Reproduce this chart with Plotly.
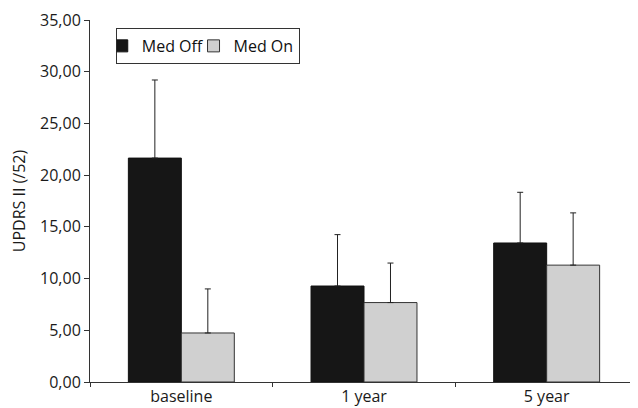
import plotly.graph_objects as go

categories = ["baseline", "1 year", "5 year"]
med_off = [21.65, 9.28, 13.44]
med_off_err = [7.55, 4.97, 4.9]
med_on = [4.74, 7.68, 11.3]
med_on_err = [4.26, 3.82, 5.05]
y_ticks = [0, 5, 10, 15, 20, 25, 30, 35]

FONT = "Open Sans"

fig = go.Figure()
fig.add_trace(go.Bar(
    x=categories, y=med_off, name="Med Off",
    marker=dict(color="#161616", line=dict(color="#111111", width=1)),
    error_y=dict(type="data", symmetric=False, array=med_off_err,
                 arrayminus=[0] * len(med_off), color="#222222", thickness=1, width=3),
))
fig.add_trace(go.Bar(
    x=categories, y=med_on, name="Med On",
    marker=dict(color="#d0d0d0", line=dict(color="#333333", width=1)),
    error_y=dict(type="data", symmetric=False, array=med_on_err,
                 arrayminus=[0] * len(med_on), color="#222222", thickness=1, width=3),
))

# page body has an 8px margin, so the figure is made 8px smaller
fig.update_layout(
    width=630, height=400,
    margin=dict(l=82, r=0, t=12, b=26, autoexpand=False),
    paper_bgcolor="white", plot_bgcolor="white",
    font=dict(family=FONT, size=16, color="#1a1a1a"),
    separators=", ",
    barmode="group", bargap=0.42, bargroupgap=0,
    showlegend=True,
    legend=dict(
        orientation="h", x=0.047, y=0.978, xanchor="left", yanchor="top",
        bordercolor="#333333", borderwidth=1, bgcolor="white",
        font=dict(family=FONT, size=16, color="#111111"),
        itemwidth=30, indentation=-15, tracegroupgap=0,
    ),
)
fig.update_yaxes(
    range=[0, 35], tickvals=y_ticks, tickformat=".2f",
    showgrid=False, zeroline=False,
    showline=True, linecolor="#333333", linewidth=1,
    ticks="outside", ticklen=5, tickcolor="#333333",
    title=dict(text="UPDRS II (/52)", font=dict(family=FONT, size=16), standoff=10),
)
fig.update_xaxes(
    showgrid=False, showline=True, linecolor="#333333", linewidth=1,
    ticks="outside", ticklen=4, tickcolor="#333333", tickson="boundaries",
    range=[-0.5, 2.5],
)

fig.write_html("out.html")
